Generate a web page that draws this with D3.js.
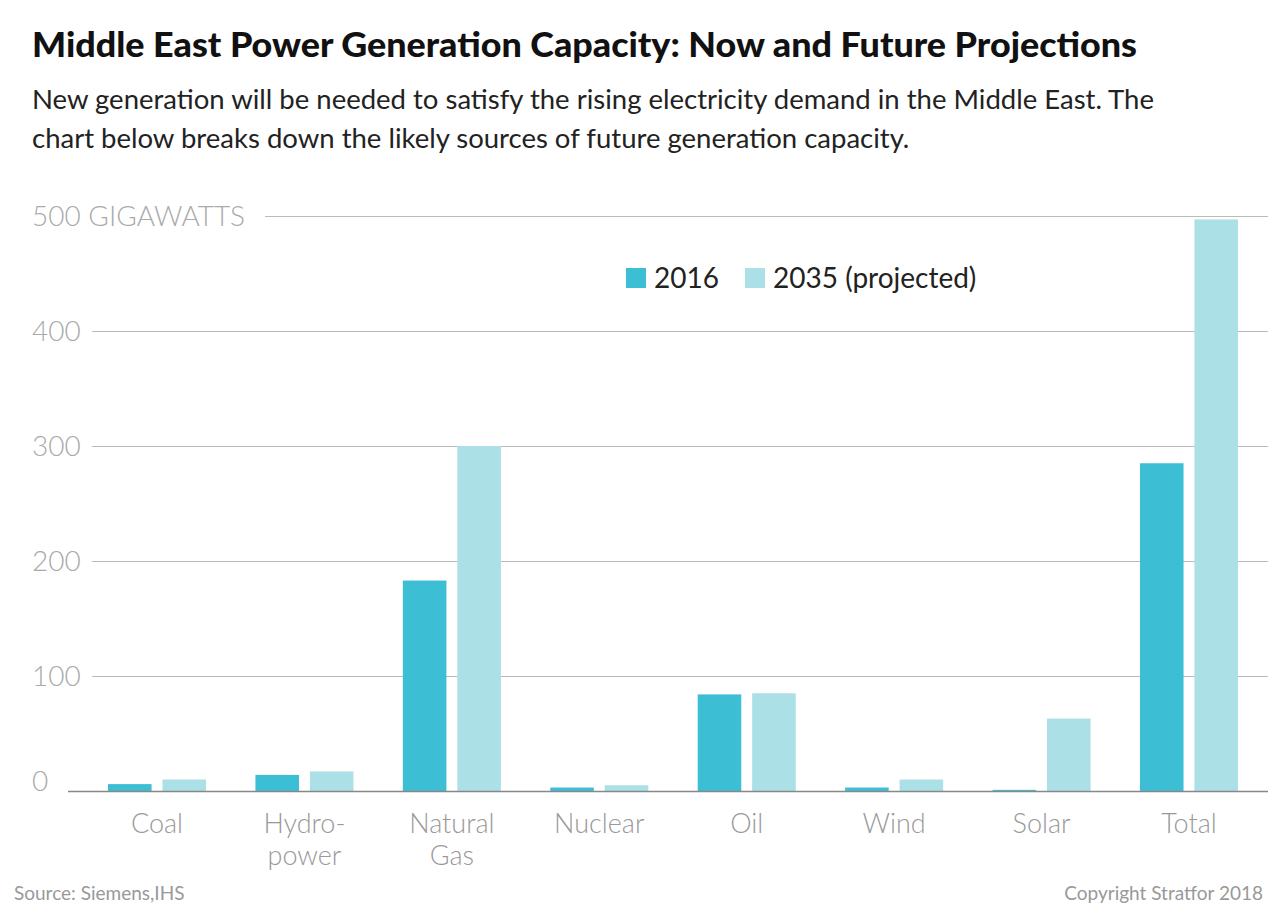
<!DOCTYPE html>
<html><head><meta charset="utf-8">
<script src="https://cdn.jsdelivr.net/npm/d3@7"></script>
<style>
body{margin:0;background:#fff;font-family:Lato,"Open Sans",sans-serif;}
</style></head><body>
<script>
// data
var categories = ["Coal", "Hydro-|power", "Natural|Gas", "Nuclear", "Oil", "Wind", "Solar", "Total"];
var values2016 = [6, 14, 183, 3, 84, 3, 1, 285];
var values2035 = [10, 17, 300, 5, 85, 10, 63, 497];
var series = ["2016", "2035 (projected)"];
var colors = ["#3cbfd4", "#aae0e6"];
var ticks = [0, 100, 200, 300, 400, 500];

var svg = d3.select("body").append("svg").attr("width", 1280).attr("height", 921);

svg.append("text").text("Middle East Power Generation Capacity: Now and Future Projections")
    .attr("x", 32).attr("y", 57).attr("font-size", 35).attr("font-weight", 900).attr("fill", "#111")
    .attr("textLength", 1105).attr("lengthAdjust", "spacingAndGlyphs");
svg.append("text").text("New generation will be needed to satisfy the rising electricity demand in the Middle East. The")
    .attr("x", 32).attr("y", 109).attr("font-size", 27.5).attr("fill", "#222");
svg.append("text").text("chart below breaks down the likely sources of future generation capacity.")
    .attr("x", 32).attr("y", 148).attr("font-size", 27.5).attr("fill", "#222");

var y = d3.scaleLinear().domain([0, 500]).range([791, 216]);
var x = d3.scaleBand().domain(categories).range([108, 1238]).paddingInner(0.335).paddingOuter(0);
var x1 = d3.scaleBand().domain([0, 1]).range([0, x.bandwidth()]).paddingInner(0.2);

// gridlines
svg.selectAll(".grid").data(ticks.filter(function(t) { return t > 0; })).enter().append("line")
    .attr("x1", function(t) { return t == 500 ? 265 : 92; }).attr("x2", 1268)
    .attr("y1", function(t) { return y(t) + 0.5; }).attr("y2", function(t) { return y(t) + 0.5; })
    .attr("stroke", "#bbb").attr("stroke-width", 1);

svg.selectAll(".tick").data(ticks).enter().append("text")
    .text(function(t) { return t == 500 ? "500 GIGAWATTS" : t; })
    .attr("x", 32).attr("y", function(t) { return t == 0 ? y(t) : y(t) + 10; })
    .attr("font-size", 28).attr("font-weight", 300).attr("fill", "#aaa");

var groups = svg.selectAll(".grp").data(categories).enter().append("g")
    .attr("transform", function(c) { return "translate(" + x(c) + ",0)"; });
[values2016, values2035].forEach(function(vals, s) {
    groups.append("rect")
        .attr("x", x1(s)).attr("width", x1.bandwidth())
        .attr("y", function(c, i) { return y(vals[i]); })
        .attr("height", function(c, i) { return y(0) - y(vals[i]); })
        .attr("fill", colors[s]);
});

svg.append("line").attr("x1", 68).attr("x2", 1268).attr("y1", 791.5).attr("y2", 791.5)
    .attr("stroke", "#888").attr("stroke-width", 1.5);

groups.each(function(c) {
    var parts = c.split("|");
    var t = d3.select(this).append("text").attr("text-anchor", "middle")
        .attr("font-size", 27).attr("font-weight", 300).attr("fill", "#999");
    parts.forEach(function(p, i) {
        t.append("tspan").text(p).attr("x", x.bandwidth() / 2).attr("y", 833 + i * 32);
    });
});

// legend
var lx = [626, 745];
series.forEach(function(s, i) {
    svg.append("rect").attr("x", lx[i]).attr("y", 268).attr("width", 20).attr("height", 20).attr("fill", colors[i]);
    svg.append("text").text(s).attr("x", lx[i] + 28).attr("y", 288).attr("font-size", 28).attr("fill", "#222");
});

svg.append("text").text("Source: Siemens,IHS").attr("x", 14).attr("y", 900).attr("font-size", 19).attr("fill", "#999");
svg.append("text").text("Copyright Stratfor 2018").attr("x", 1263).attr("y", 900).attr("text-anchor", "end")
    .attr("font-size", 19).attr("fill", "#999");
</script>
</body></html>
